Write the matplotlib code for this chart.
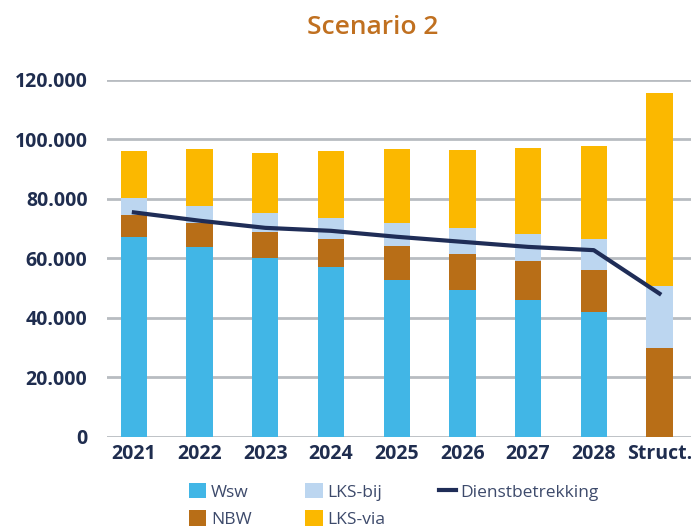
import matplotlib
matplotlib.use("Agg")
import matplotlib.pyplot as plt
from matplotlib.ticker import FuncFormatter

# Data
categories = ['2021', '2022', '2023', '2024', '2025', '2026', '2027', '2028', 'Struct.']
wsw = [67300, 63800, 60300, 57000, 52900, 49500, 46000, 41900, 0]
nbw = [7300, 8000, 8700, 9500, 11400, 12000, 13100, 14400, 29900]
lks_bij = [5900, 5800, 6200, 7100, 7500, 8600, 9300, 10300, 20800]
lks_via = [15600, 19100, 20200, 22500, 24900, 26400, 28700, 31200, 64900]
dienst = [75500, 72700, 70300, 69300, 67300, 65600, 63900, 62800, 48200]

c_wsw = '#41b6e6'
c_nbw = '#b86e17'
c_bij = '#bcd6f0'
c_via = '#fbb800'
c_line = '#1f2d57'
c_text = '#1f2d4f'

plt.rcParams['font.family'] = ['Open Sans', 'DejaVu Sans']

fig = plt.figure(figsize=(6.91, 5.27), dpi=100)
ax = fig.add_axes([0.1548, 0.1708, 0.8452, 0.6774])

x = list(range(len(categories)))
w = 0.40
b1 = wsw
b2 = [a + b for a, b in zip(b1, nbw)]
b3 = [a + b for a, b in zip(b2, lks_bij)]

ax.bar(x, wsw, w, color=c_wsw, label='Wsw', zorder=3)
ax.bar(x, nbw, w, bottom=b1, color=c_nbw, label='NBW', zorder=3)
ax.bar(x, lks_bij, w, bottom=b2, color=c_bij, label='LKS-bij', zorder=3)
ax.bar(x, lks_via, w, bottom=b3, color=c_via, label='LKS-via', zorder=3)
ax.plot(x, dienst, color=c_line, linewidth=3, label='Dienstbetrekking', zorder=4)

ax.set_ylim(0, 120000)
ax.set_xlim(-0.41, 8.48)
ax.set_yticks(range(0, 120001, 20000))
ax.yaxis.set_major_formatter(FuncFormatter(lambda v, p: f'{int(v):,}'.replace(',', '.')))
ax.set_xticks(x)
ax.set_xticklabels(categories)
ax.grid(axis='y', color='#b8bcc1', linewidth=2, zorder=0)
for s in ax.spines.values():
    s.set_visible(False)
ax.tick_params(length=0, labelsize=14, labelcolor=c_text, pad=14)
ax.tick_params(axis='x', pad=5)
for lab in ax.get_xticklabels() + ax.get_yticklabels():
    lab.set_fontweight('bold')

fig.text(0.54, 0.947, 'Scenario 2', ha='center', va='center', fontsize=19,
         fontweight='semibold', color='#c07020')

h, l = ax.get_legend_handles_labels()
order = [1, 2, 3, 4, 0]
leg = fig.legend([h[i] for i in order], [l[i] for i in order], ncol=3,
                 loc='center', bbox_to_anchor=(0.57, 0.041), frameon=False,
                 fontsize=12.5, handlelength=1.0, handleheight=1.0,
                 columnspacing=3.1, labelspacing=0.55, handletextpad=0.25)
for t in leg.get_texts():
    t.set_color('#3d4a6b')

fig.savefig('out.png', dpi=100)
